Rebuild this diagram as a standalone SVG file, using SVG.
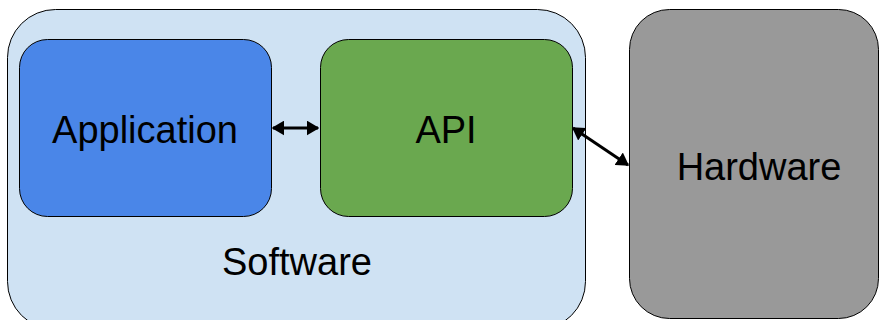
<svg xmlns="http://www.w3.org/2000/svg" width="880" height="320" viewBox="0 0 880 320">
  <defs>
    <style>
      .box { stroke: #000; stroke-width: 1; }
      .label { font-family: "Liberation Sans", Arial, sans-serif; font-size: 38px; fill: #000; text-anchor: middle; }
      .link { stroke: #000; stroke-width: 3; fill: none; marker-start: url(#head); marker-end: url(#head); }
    </style>
    <marker id="head" viewBox="0 0 10 12" refX="9" refY="6" markerWidth="4.2" markerHeight="5" orient="auto-start-reverse" markerUnits="strokeWidth">
      <path d="M0,0 L10,6 L0,12 z" fill="#000"/>
    </marker>
  </defs>

  <g id="software">
    <rect class="box" x="7.5" y="9.5" width="578" height="320" rx="48" ry="48" fill="#cfe2f3"/>
    <text class="label" x="297" y="275">Software</text>
  </g>

  <g id="application">
    <rect class="box" x="19.5" y="39.5" width="252" height="177" rx="28" ry="28" fill="#4a86e8"/>
    <text class="label" x="145" y="143">Application</text>
  </g>

  <g id="api">
    <rect class="box" x="320.5" y="39.5" width="252" height="177" rx="28" ry="28" fill="#6aa84f"/>
    <text class="label" x="446" y="143">API</text>
  </g>

  <g id="hardware">
    <rect class="box" x="629.5" y="9.5" width="249" height="309" rx="40" ry="40" fill="#999999"/>
    <text class="label" x="759" y="180">Hardware</text>
  </g>

  <g id="connectors">
    <line class="link" x1="273" y1="128" x2="318" y2="128"/>
    <line class="link" x1="573" y1="128" x2="628" y2="165"/>
  </g>
</svg>
